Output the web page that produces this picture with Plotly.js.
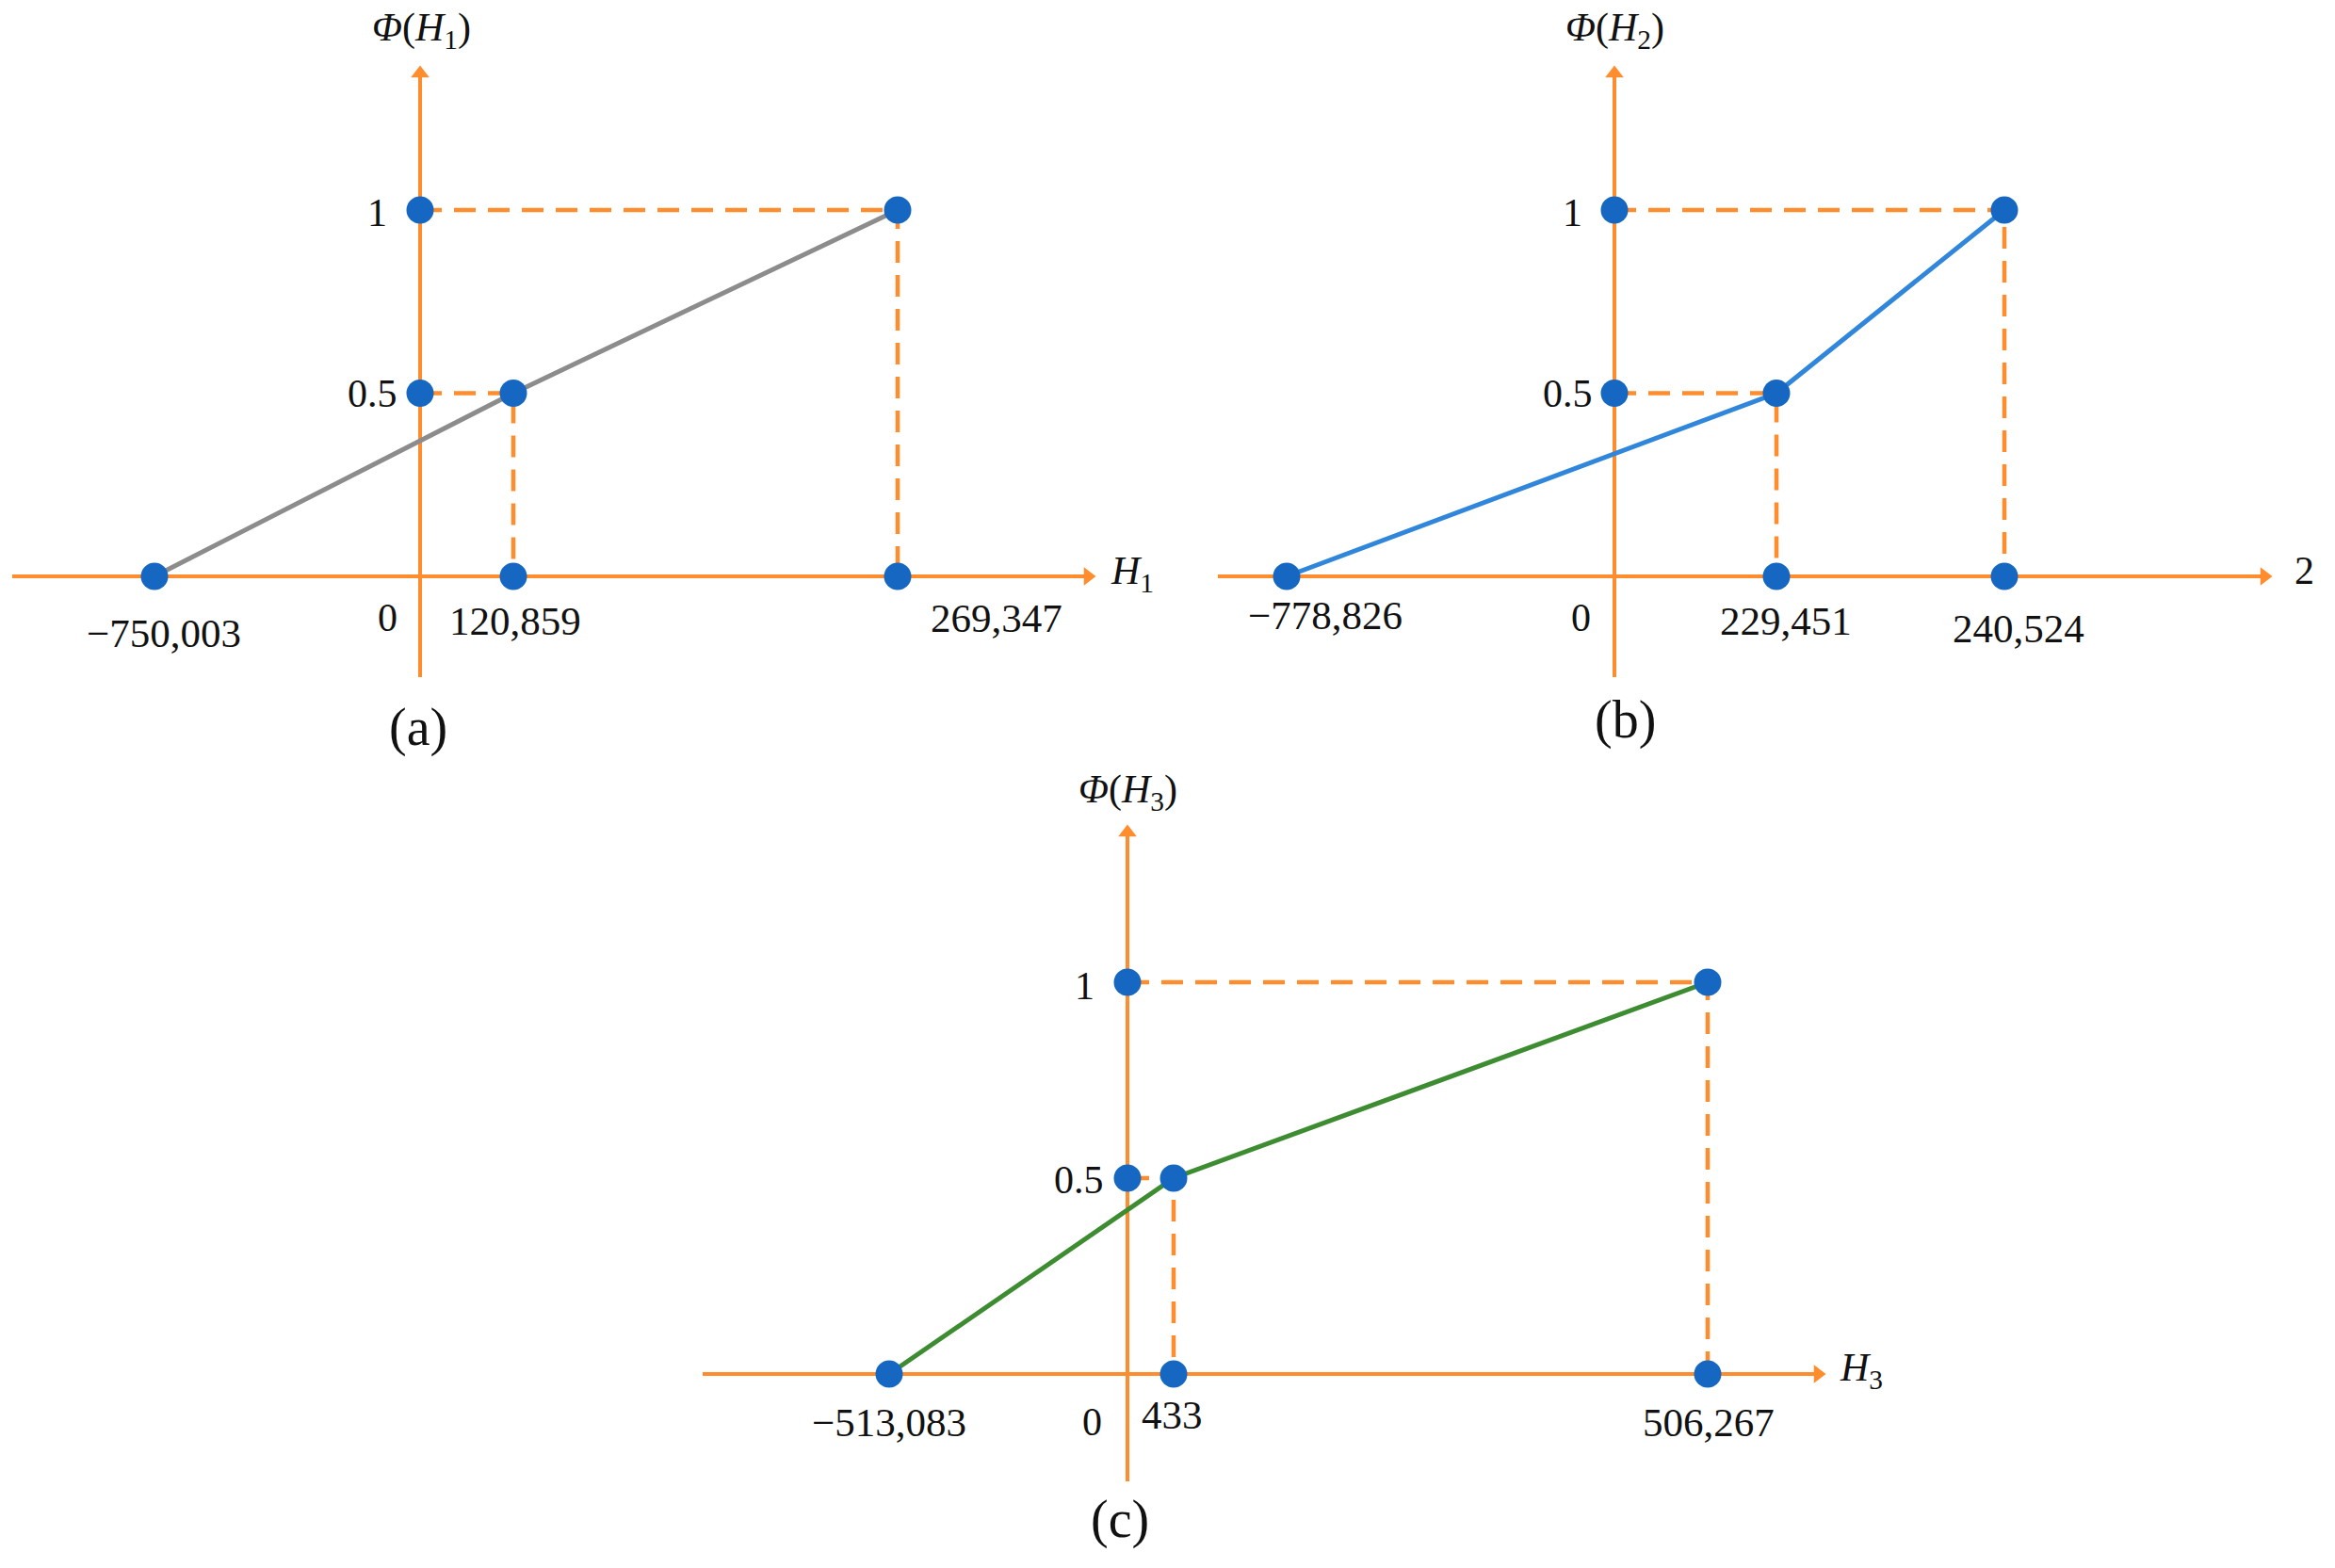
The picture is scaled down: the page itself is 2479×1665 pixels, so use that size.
<!DOCTYPE html>
<html><head><meta charset="utf-8">
<script src="https://cdn.plot.ly/plotly-3.0.1.min.js"></script>
<style>html,body{margin:0;padding:0;background:#fff}#chart{width:2479px;height:1665px}</style>
</head><body><div id="chart"></div>
<script>
// ---------------- data ----------------
const phiLevels = [0, 0.5, 1];                 // membership levels Φ
const H1_values = [-750003, 120859, 269347];
const H2_values = [-778826, 229451, 240524];
const H3_values = [-513083, 433, 506267];
// positions of those values along each horizontal axis as drawn in the figure (schematic, not to scale)
const H1_drawn = [-2.82, 0.99, 5.07];
const H2_drawn = [-3.48, 1.72, 4.14];
const H3_drawn = [-2.53, 0.49, 6.16];
const yTickLabels = ['0.5', '1'];
const originLabel = '0';
const xAxisNames = ['<i>H</i><sub>1</sub>', '2', '<i>H</i><sub>3</sub>'];
const yAxisNames = ['<i>Φ</i>(<i>H</i><sub>1</sub>)', '<i>Φ</i>(<i>H</i><sub>2</sub>)', '<i>Φ</i>(<i>H</i><sub>3</sub>)'];
const panelTags = ['(a)', '(b)', '(c)'];

// ---------------- styling / layout ----------------
const W = 2479, H = 1665;
const ORANGE = '#FF8C2D', MARK = '#1667C2', TXT = '#111111';
const FONT = 'Liberation Serif, DejaVu Serif, serif';
const curveColors = ['#8C8C8C', '#2F86DA', '#3E8C32'];

const panels = [
  {vals: H1_values, pos: H1_drawn, box: [0, 0, 1240, 800], origin: [446, 612], xs: 100, ys: 389,
   xExt: [-4.33, 7.16], yExt: [-0.275, 1.391],
   valShift: [[10, -60], [2, -47], [105, -44]], yLabShift: [[-51, 0], [-46, -3]], zeroShift: [-35, -44],
   nameAt: [7.56, 3], titlePx: [447, 32], tagPx: [444, 772]},
  {vals: H2_values, pos: H2_drawn, box: [1240, 0, 2479, 800], origin: [1714, 612], xs: 100, ys: 389,
   xExt: [-4.21, 6.97], yExt: [-0.275, 1.391],
   valShift: [[41, -41], [10, -47], [15, -55]], yLabShift: [[-49, 0], [-44, -3]], zeroShift: [-35, -44],
   nameAt: [7.32, 6], titlePx: [1714, 32], tagPx: [1725, 764]},
  {vals: H3_values, pos: H3_drawn, box: [600, 800, 2100, 1665], origin: [1197, 1459], xs: 100, ys: 416,
   xExt: [-4.51, 7.40], yExt: [-0.274, 1.399],
   valShift: [[0, -51], [-2, -43], [1, -51]], yLabShift: [[-52, -2], [-46, -4]], zeroShift: [-38, -51],
   nameAt: [7.79, 4], titlePx: [1197, 841], tagPx: [1189, 1613]}
];

function fmt(v) { return (v < 0 ? '\u2212' : '') + Math.abs(v).toLocaleString('en-US'); }

const traces = [], annotations = [];
const layout = {
  width: W, height: H, margin: {l: 0, r: 0, t: 0, b: 0},
  paper_bgcolor: '#fff', plot_bgcolor: 'rgba(0,0,0,0)',
  showlegend: false, hovermode: false,
  font: {family: FONT, color: TXT, size: 40}
};
function txt(o, size) {
  return Object.assign({showarrow: false, xanchor: 'center', yanchor: 'middle',
    font: {family: FONT, size: size, color: TXT}}, o);
}

panels.forEach((p, i) => {
  const n = i === 0 ? '' : String(i + 1);
  const xa = 'x' + n, ya = 'y' + n;
  const [bx0, by0, bx1, by1] = p.box, [ox, oy] = p.origin;
  layout['xaxis' + n] = {domain: [bx0 / W, bx1 / W], range: [(bx0 - ox) / p.xs, (bx1 - ox) / p.xs],
    visible: false, fixedrange: true, anchor: ya};
  layout['yaxis' + n] = {domain: [1 - by1 / H, 1 - by0 / H], range: [(oy - by1) / p.ys, (oy - by0) / p.ys],
    visible: false, fixedrange: true, anchor: xa};

  const pos = p.pos;
  const xTip = p.xExt[1], yTip = p.yExt[1];
  // axis lines
  traces.push({x: [p.xExt[0], xTip - 0.08, null, 0, 0], y: [0, 0, null, p.yExt[0], yTip - 8 / p.ys],
    xaxis: xa, yaxis: ya, mode: 'lines', line: {color: ORANGE, width: 4}, connectgaps: false});
  // arrowheads at the axis ends
  traces.push({x: [xTip - 0.07], y: [0], xaxis: xa, yaxis: ya, mode: 'markers',
    marker: {symbol: 'triangle-right', size: 17, color: ORANGE, line: {width: 0}}});
  traces.push({x: [0], y: [yTip - 7 / p.ys], xaxis: xa, yaxis: ya, mode: 'markers',
    marker: {symbol: 'triangle-up', size: 17, color: ORANGE, line: {width: 0}}});
  // dashed projection lines
  traces.push({x: [0, pos[1], pos[1], null, 0, pos[2], pos[2]],
    y: [phiLevels[1], phiLevels[1], phiLevels[0], null, phiLevels[2], phiLevels[2], phiLevels[0]],
    xaxis: xa, yaxis: ya, mode: 'lines', line: {color: ORANGE, width: 4.5, dash: '23px,13px'}, connectgaps: false});
  // membership curve
  traces.push({x: pos, y: phiLevels, xaxis: xa, yaxis: ya, mode: 'lines', line: {color: curveColors[i], width: 5}});
  // markers
  traces.push({x: [pos[0], pos[1], pos[2], pos[1], pos[2], 0, 0],
    y: [0, 0, 0, phiLevels[1], phiLevels[2], phiLevels[1], phiLevels[2]],
    xaxis: xa, yaxis: ya, mode: 'markers', marker: {color: MARK, size: 29, line: {width: 0}}});

  // value labels under the x axis
  p.vals.forEach((v, k) => {
    annotations.push(txt({x: pos[k], y: 0, xref: xa, yref: ya, text: fmt(v),
      xshift: p.valShift[k][0], yshift: p.valShift[k][1]}, 43));
  });
  // y tick labels
  [phiLevels[1], phiLevels[2]].forEach((lv, k) => {
    annotations.push(txt({x: 0, y: lv, xref: xa, yref: ya, text: yTickLabels[k],
      xshift: p.yLabShift[k][0], yshift: p.yLabShift[k][1]}, 42));
  });
  // origin label
  annotations.push(txt({x: 0, y: 0, xref: xa, yref: ya, text: originLabel,
    xshift: p.zeroShift[0], yshift: p.zeroShift[1]}, 42));
  // axis names
  annotations.push(txt({x: p.nameAt[0], y: 0, xref: xa, yref: ya, text: xAxisNames[i], yshift: p.nameAt[1]}, 42));
  annotations.push(txt({x: p.titlePx[0] / W, y: 1 - p.titlePx[1] / H, xref: 'paper', yref: 'paper',
    text: yAxisNames[i]}, 42));
  annotations.push(txt({x: p.tagPx[0] / W, y: 1 - p.tagPx[1] / H, xref: 'paper', yref: 'paper',
    text: panelTags[i]}, 56));
});

layout.annotations = annotations;
Plotly.newPlot('chart', traces, layout, {displayModeBar: false, staticPlot: true});
</script>
</body></html>
